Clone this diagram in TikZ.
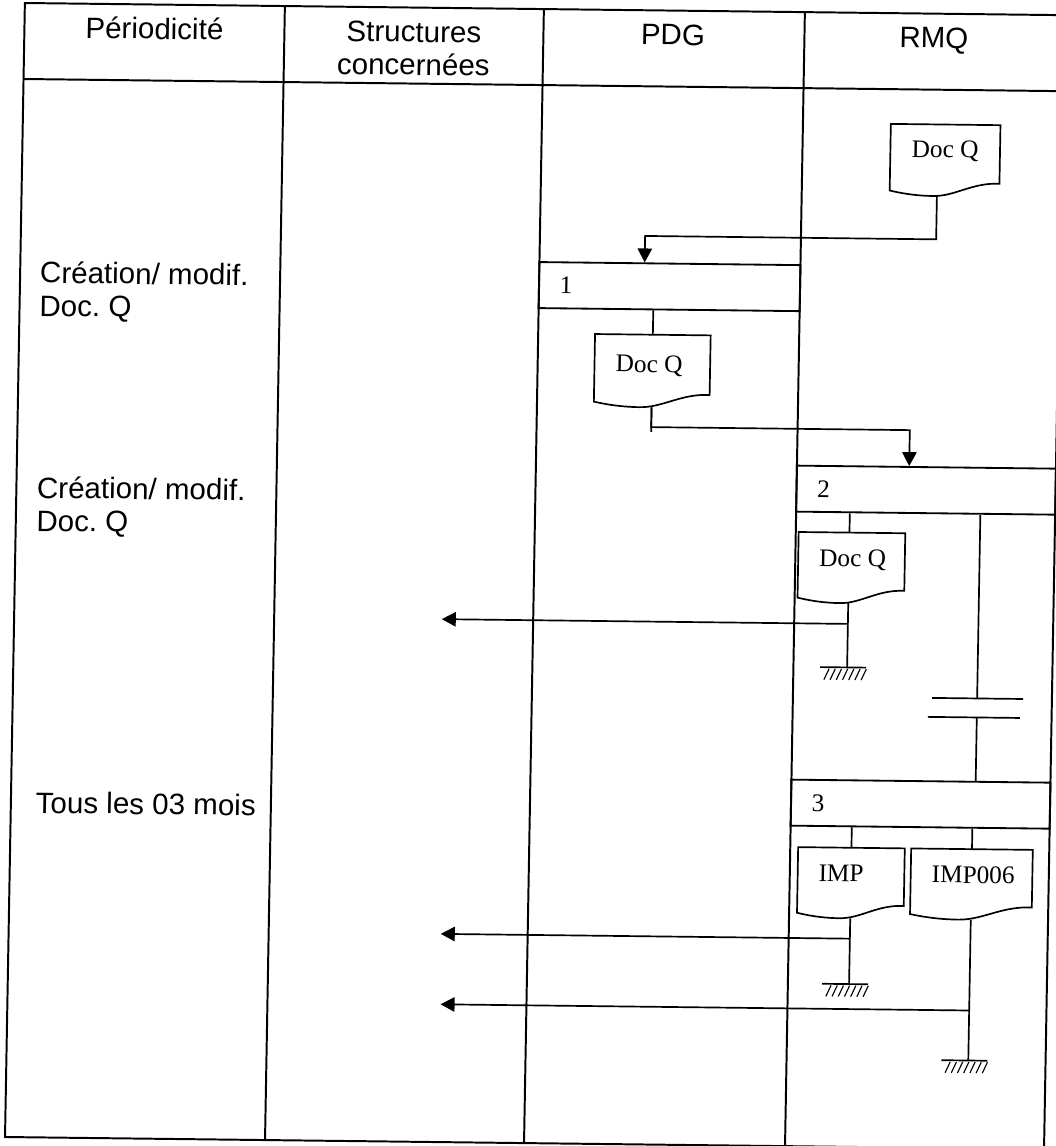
\documentclass[tikz,border=0pt]{standalone}
\usepackage{fontspec}
\setmainfont{Liberation Sans}
\newfontfamily\serifdoc{Liberation Serif}
\usetikzlibrary{arrows.meta,calc}
\frenchspacing
\newcommand\docshape[1]{%
  \draw[line] ($(#1.south west)+(0,-5)$) -- (#1.north west) -- (#1.north east) -- ($(#1.south east)+(0,-13)$)
    .. controls ($(#1.south west)!0.75!(#1.south east)+(0,-14)$) and ($(#1.south west)!0.6!(#1.south east)$) .. ($(#1.south west)!0.4!(#1.south east)$)
    .. controls ($(#1.south west)!0.22!(#1.south east)$) and ($(#1.south west)!0.08!(#1.south east)+(0,-3)$) .. ($(#1.south west)+(0,-5)$) -- cycle;}
\begin{document}
\begin{tikzpicture}[x=0.025cm,y=-0.025cm,
  tbl/.style={line width=1.4pt},
  line/.style={line width=1.2pt},
  hatch/.style={line width=0.8pt},
  arr/.style={line, -{Triangle[length=0.35cm,width=0.36cm]}},
  hdr/.style={anchor=base, font=\fontsize{21}{23.5}\selectfont},
  rowlbl/.style={anchor=base west, align=left, font=\fontsize{21}{23.5}\selectfont},
  procbox/.style={draw, line width=1.3pt, minimum height=1.15cm, inner xsep=0.52cm, inner ysep=0pt, align=left, font=\serifdoc\fontsize{18}{20}\selectfont},
  docnode/.style={inner sep=0pt, draw=none},
  doctext/.style={anchor=base, inner sep=0pt, font=\serifdoc\fontsize{18}{20}\selectfont},
  gnd/.pic={\draw[line] (-27,0) -- (19,0);
    \foreach \i in {0,...,6} \draw[hatch] ({-18+6.2*\i},1.5) -- ++(-5,11);}
]
\useasboundingbox (0,0) rectangle (1056,1146);
\begin{scope}[cm={1,-0.0117,0.0175,1,(0.2507cm,0.1544cm)}, every node/.append style={transform shape}]
% table
\draw[tbl] (15,9) rectangle (1054,1143);
\draw[tbl] (15,85) -- (1054,85);
\foreach \x in {275,534,795} \draw[tbl] (\x,9) -- (\x,1143);
% headers
\node[hdr] (hP) at (145,43.5) {Périodicité};
\node[hdr, align=center] (hS) at (404.5,76.5) {Structures\\concernées};
\node[hdr] (hD) at (663.5,43.5) {PDG};
\node[hdr] (hR) at (924.5,43.5) {RMQ};
% row labels (base = last line)
\node[rowlbl] (r1) at (30,321.8) {Création/ modif.\\Doc. Q};
\node[rowlbl] (r2) at (30.7,536.8) {Création/ modif.\\Doc. Q};
\node[rowlbl] (r3) at (35,818.7) {Tous les 03 mois};
% process boxes
\node[procbox, text width=5.485cm] (b1) at (664.5,285) {1};
\node[procbox, text width=5.435cm] (b2) at (924.5,485.5) {2};
\node[procbox, text width=5.435cm] (b3) at (924.5,799.5) {3};
% documents
\node[docnode, minimum width=2.725cm, minimum height=1.775cm] (dq0) at (937.5,155.5) {};
\node[doctext] (dq0t) at (937.7,153) {Doc Q};
\docshape{dq0}
\node[docnode, minimum width=2.875cm, minimum height=1.8cm] (dq1) at (648.5,369.5) {};
\node[doctext] (dq1t) at (645.5,371) {Doc Q};
\docshape{dq1}
\node[docnode, minimum width=2.65cm, minimum height=1.75cm] (dq2) at (851,564) {};
\node[doctext] (dq2t) at (852.3,563) {Doc Q};
\docshape{dq2}
\node[docnode, minimum width=2.65cm, minimum height=1.75cm] (imp) at (856,879) {};
\node[doctext] (impt) at (846.4,878) {IMP};
\docshape{imp}
\node[docnode, minimum width=3.025cm, minimum height=1.75cm] (imp6) at (976.5,879) {};
\node[doctext] (imp6t) at (978.4,878) {IMP006};
\docshape{imp6}
% connectors
\draw[arr] ($(dq0.south)+(-7.5,0)$) |- ($(b1.north west)+(106,-26.5)$) -- ($(b1.north west)+(106,0)$);
\draw[line] (b1.south -| dq1.north) -- (dq1.north);
\draw[line] (dq1.south) -- ++(0,24.5);
\draw[arr] (dq1.south) |- ($(b2.north west)+(113,-36)$) -- ($(b2.north west)+(113,0)$);
\coordinate (g1) at (848.5,663.5);
\coordinate (t1) at (442.5,620);
\draw[line] (b2.south -| g1) -- (g1 |- dq2.north);
\draw[line] (g1 |- dq2.south) -- (g1);
\pic at (g1) {gnd};
\draw[arr] (g1 |- t1) -- (t1);
% wait symbol
\coordinate (w1) at (979,693);
\coordinate (w2) at (979,712);
\draw[line] (b2.south -| w1) -- (w1);
\draw[line] ($(w1)+(-45,0)$) -- ($(w1)+(46,0)$);
\draw[line] ($(w2)+(-49,0)$) -- ($(w2)+(43,0)$);
\draw[line] (w2) -- (b3.north -| w2);
% box 3 outputs
\draw[line] (b3.south -| imp.north) -- (imp.north);
\draw[line] (b3.south -| imp6.north) -- (imp6.north);
\coordinate (g2) at (856,980);
\coordinate (t2) at (447,934.6);
\draw[line] (imp.south) -- (g2);
\pic at (g2) {gnd};
\draw[arr] (g2 |- t2) -- (t2);
\coordinate (g3) at (976.5,1055);
\coordinate (t3) at (448,1005);
\draw[line] (imp6.south) -- (g3);
\pic at (g3) {gnd};
\draw[arr] (g3 |- t3) -- (t3);
\end{scope}
\end{tikzpicture}
\end{document}
